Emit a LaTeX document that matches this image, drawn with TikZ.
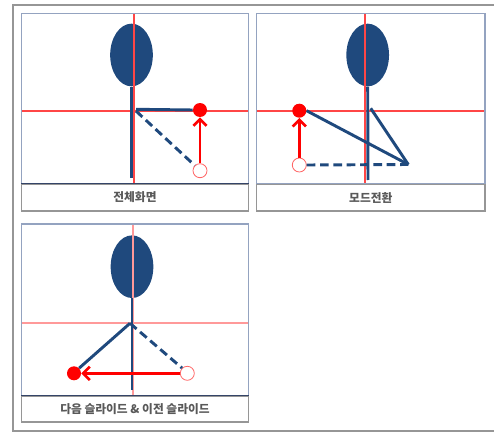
\documentclass[tikz,border=0pt]{standalone}
\usepackage{fontspec}
\newfontfamily\krfont{Noto Sans CJK KR}
\usetikzlibrary{arrows.meta,shapes.geometric}
\definecolor{headblue}{RGB}{31,73,125}
\definecolor{framegray}{RGB}{150,150,150}
\definecolor{panelframe}{RGB}{148,163,192}
\definecolor{panelbase}{RGB}{52,68,104}
\definecolor{capgray}{RGB}{89,89,89}
\definecolor{guidered}{RGB}{255,70,70}
\tikzset{
  panel/.style={draw=panelframe,line width=1.1pt},
  capbox/.style={draw=framegray,line width=1pt},
  sepline/.style={draw=panelbase,line width=1.1pt},
  guide/.style={draw=guidered,line width=1.2pt},
  softguide/.style={draw=red!40,line width=1.4pt},
  head/.style={ellipse,fill=headblue,minimum width=32pt,minimum height=47pt,inner sep=0pt},
  stem/.style={draw=headblue,line width=2.2pt},
  limb/.style={draw=headblue,line width=2.2pt},
  dlimb/.style={limb,dash pattern=on 6.5pt off 3.5pt},
  ptfull/.style={circle,fill=red,minimum size=10.5pt,inner sep=0pt},
  ptopen/.style={circle,draw=red!60,fill=white,line width=0.6pt,minimum size=10.5pt,inner sep=0pt},
  move/.style={draw=red,line width=2.2pt,-{Straight Barb[length=5pt,width=10pt,line width=2pt]}},
  caption/.style={font=\krfont\bfseries\fontsize{8.8}{10}\selectfont,text=capgray}
}
\begin{document}
\begin{tikzpicture}[x=0.75pt,y=-0.75pt]
  \useasboundingbox (0,0) rectangle (494,432);
  % Outer frame
  \draw[framegray,line width=1.3pt] (494,5) -- (13,5) -- (13,431) -- (494,431);

  % Panel 1: full screen
  \node[head] (h1) at (131.5,55) {};
  \draw[guide] (134,13.3) -- (134,184);
  \draw[guide] (21.3,111) -- (248.7,111);
  \coordinate (f1) at (131.5,177.7);
  \draw[stem] (h1.south) -- (f1);
  \coordinate (c1) at (136,109.3);
  \coordinate (d1) at (136,111);
  \node[ptfull] (p1) at (200,110) {};
  \node[ptopen] (q1) at (200,170.7) {};
  \draw[limb] (c1) -- (p1.west);
  \draw[dlimb] (d1) -- (q1.north west);
  \draw[move] (q1.north) -- (p1.south);
  \draw[panel] (21.3,13.3) rectangle (248.7,184);
  \draw[sepline] (21.3,184) -- (248.7,184);
  \draw[capbox] (21.3,184.8) rectangle (248.7,211);
  \node[caption] (t1) at (135,197.5) {전체화면};

  % Panel 2: mode change
  \node[head] (h2) at (367.7,55) {};
  \draw[guide] (365,13.3) -- (365,184);
  \draw[guide] (256.7,111) -- (485,111);
  \coordinate (f2) at (368,180);
  \draw[stem] (h2.south) -- (f2);
  \node[ptfull] (p2) at (299.3,110.7) {};
  \node[ptopen] (q2) at (299.3,165) {};
  \coordinate (c2) at (370.7,108.3);
  \coordinate (k2) at (408.3,164.5);
  \draw[limb] (p2.east) -- (k2);
  \draw[limb] (c2) -- (k2);
  \draw[dlimb] (q2.east) -- (k2);
  \draw[move] (q2.north) -- (p2.south);
  \draw[panel] (256.7,13.3) rectangle (485,184);
  \draw[capbox] (256.7,184.8) rectangle (485,211);
  \node[caption] (t2) at (370.8,197.5) {모드전환};

  % Panel 3: next / previous slide
  \node[head] (h3) at (132,266.7) {};
  \draw[softguide] (133.3,224) -- (133.3,396);
  \draw[softguide] (21.3,323.3) -- (248.7,323.3);
  \coordinate (f3) at (132,390);
  \draw[stem] (h3.south) -- (f3);
  \coordinate (c3) at (130,323.3);
  \node[ptfull] (p3) at (74,373.3) {};
  \node[ptopen] (q3) at (187.3,373.3) {};
  \draw[limb] (c3) -- (p3.north east);
  \draw[dlimb] (c3) -- (q3.north west);
  \draw[move] (q3.west) -- (p3.east);
  \draw[panel] (21.3,224) rectangle (248.7,396);
  \draw[sepline] (21.3,396) -- (248.7,396);
  \draw[capbox] (21.3,396.8) rectangle (248.7,422);
  \node[caption] (t3) at (135,409.5) {다음 슬라이드 \& 이전 슬라이드};
\end{tikzpicture}
\end{document}
